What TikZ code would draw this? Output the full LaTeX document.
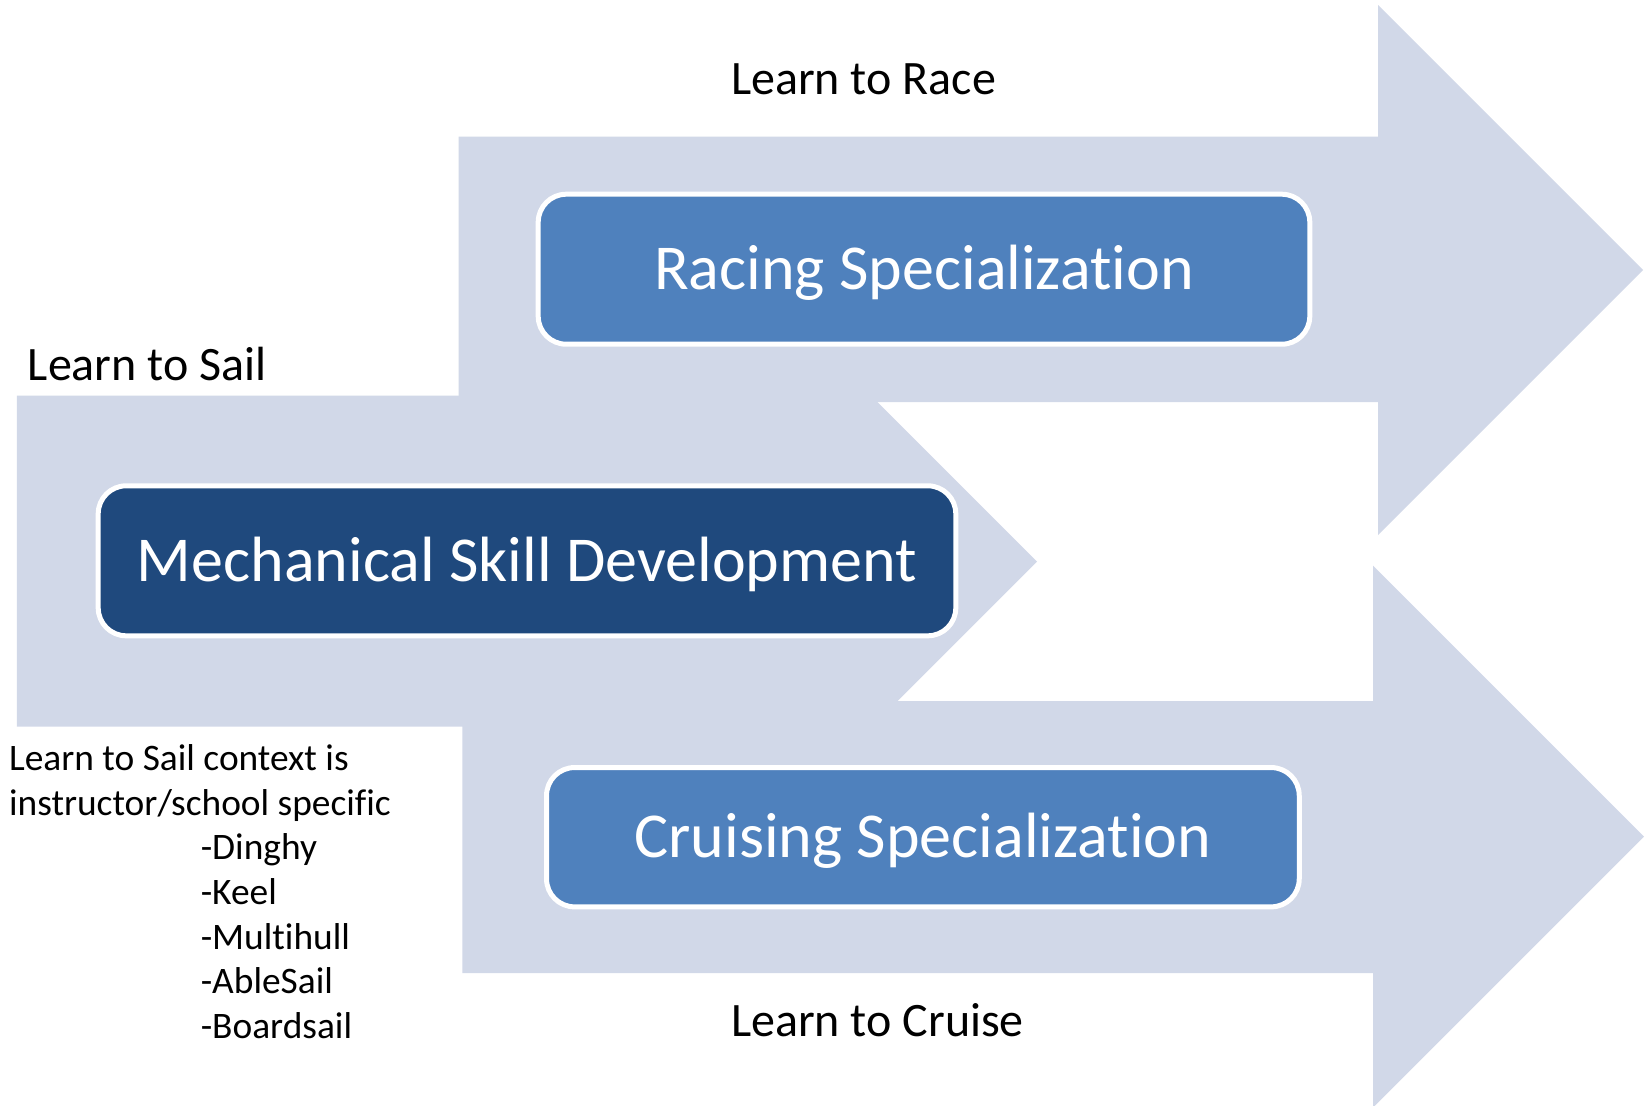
\documentclass[tikz,border=0pt]{standalone}
\usepackage{fontspec}
\setmainfont{Carlito}[Ligatures={NoCommon}]
\definecolor{arrowfill}{HTML}{D1D8E8}
\definecolor{midblue}{HTML}{4F81BD}
\definecolor{navyblue}{HTML}{1F497D}
\begin{document}
\begin{tikzpicture}[x=0.5pt,y=-0.5pt,
  band/.style={fill=arrowfill,draw=none},
  stagebox/.style={rectangle,rounded corners=14pt,draw=white,line width=2.5pt,text=white,
    font=\fontsize{32}{38}\selectfont,text height=20.6pt,text depth=0pt,inner sep=0pt},
  lbl/.style={font=\fontsize{24}{29}\selectfont,inner sep=0pt,text=black},
  note/.style={font=\fontsize{18.7}{22.6}\selectfont,inner sep=0pt,anchor=base west,text=black}]
\useasboundingbox (0,0) rectangle (1646,1105);
\fill[white] (0,0) rectangle (1646,1105);
% arrows
\fill[band] (458.5,136.5) -- (1378,136.5) -- (1378,5) -- (1643,270) -- (1378,535) -- (1378,402) -- (458.5,402) -- cycle;
\fill[band] (16.8,395.7) -- (852,395.7) -- (852,376.6) -- (1037,561.6) -- (852,746.6) -- (852,726.6) -- (16.8,726.6) -- cycle;
\fill[band] (462.3,701) -- (1373,701) -- (1373,565.6) -- (1644,836.6) -- (1373,1107.6) -- (1373,973) -- (462.3,973) -- cycle;
% boxes
\node[stagebox,fill=midblue,minimum width=385.8pt,minimum height=75pt] (racing) at (924,269.2) {Racing Specialization};
\node[stagebox,fill=navyblue,minimum width=428.8pt,minimum height=75pt] (mech) at (527,560.8) {Mechanical Skill Development};
\node[stagebox,fill=midblue,minimum width=376.35pt,minimum height=69.65pt] (cruising) at (922.9,837.2) {Cruising Specialization};
% labels
\node[lbl,anchor=base] (race) at (863.5,94.3) {Learn to Race};
\node[lbl,anchor=base west] (sail) at (27.5,380) {Learn to Sail};
\node[lbl,anchor=base] (cruise) at (877.5,1036) {Learn to Cruise};
% note
\node[note] (n1) at (8.7,770.7) {Learn to Sail context is};
\node[note] (n2) at (8.7,815.3) {instructor/school specific};
\node[note] (n3) at (200.4,859.9) {-Dinghy};
\node[note] (n4) at (200.4,904.5) {-Keel};
\node[note] (n5) at (200.4,949.1) {-Multihull};
\node[note] (n6) at (200.4,993.7) {-AbleSail};
\node[note] (n7) at (200.4,1038.3) {-Boardsail};
\end{tikzpicture}
\end{document}
